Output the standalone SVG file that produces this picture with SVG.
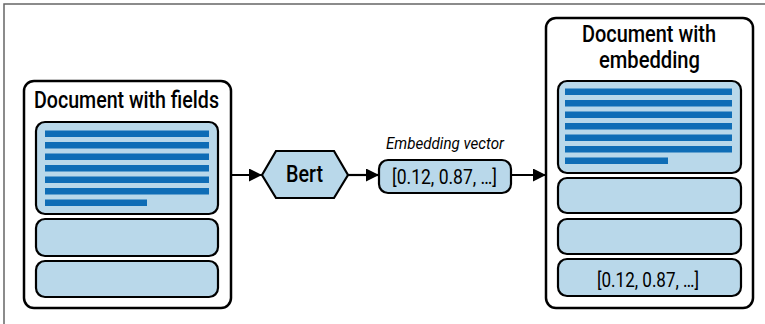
<svg xmlns="http://www.w3.org/2000/svg" width="765" height="324" viewBox="0 0 765 324">
  <defs>
    <marker id="arrow" markerWidth="13" markerHeight="13" refX="13" refY="6.5" orient="auto" markerUnits="userSpaceOnUse">
      <path d="M0,0 L13,6.5 L0,13 Z" fill="#000"/>
    </marker>
    <style>
      .doc { fill: #fff; stroke: #000; stroke-width: 2.5; }
      .field { fill: #b9d8ea; stroke: #000; stroke-width: 2.2; }
      .bar { fill: #0f6db6; }
      .title { font-family: Roboto, "Liberation Sans", sans-serif; font-weight: 500; font-size: 24px; fill: #000; }
      .val { font-family: Roboto, "Liberation Sans", sans-serif; font-weight: 400; font-size: 20px; fill: #000; }
      .lbl { font-family: Roboto, "Liberation Sans", sans-serif; font-style: italic; font-size: 17px; fill: #000; }
      .conn { stroke: #000; stroke-width: 2.2; fill: none; }
    </style>
  </defs>

  <!-- frame -->
  <path d="M4,324 V4 H765" fill="none" stroke="#666" stroke-width="1.5"/>

  <!-- connectors -->
  <g id="connectors">
    <line class="conn" x1="218" y1="175" x2="262" y2="175" marker-end="url(#arrow)"/>
    <line class="conn" x1="348" y1="175" x2="379" y2="175" marker-end="url(#arrow)"/>
    <line class="conn" x1="511" y1="175" x2="546" y2="175" marker-end="url(#arrow)"/>
  </g>

  <!-- source document -->
  <g id="doc-fields">
    <rect class="doc" x="24" y="81" width="207" height="227" rx="10"/>
    <text class="title" x="34" y="108" textLength="185" lengthAdjust="spacingAndGlyphs">Document with fields</text>
    <rect class="field" x="36" y="122" width="182" height="92" rx="9"/>
    <rect class="bar" x="45" y="130.5" width="164" height="6.5"/>
    <rect class="bar" x="45" y="142" width="164" height="6.5"/>
    <rect class="bar" x="45" y="153.5" width="164" height="6.5"/>
    <rect class="bar" x="45" y="165" width="164" height="6.5"/>
    <rect class="bar" x="45" y="176.5" width="164" height="6.5"/>
    <rect class="bar" x="45" y="188" width="164" height="6.5"/>
    <rect class="bar" x="45" y="199.5" width="102" height="6.5"/>
    <rect class="field" x="36" y="219" width="182" height="37" rx="9"/>
    <rect class="field" x="36" y="261" width="182" height="36" rx="9"/>
  </g>

  <!-- model -->
  <g id="bert">
    <polygon class="field" points="262,175 276,151 334,151 348,175 334,198 276,198"/>
    <text class="title" x="304.5" y="182" text-anchor="middle" font-size="21" textLength="37" lengthAdjust="spacingAndGlyphs">Bert</text>
  </g>

  <!-- embedding vector -->
  <g id="vector">
    <text class="lbl" x="445" y="149" text-anchor="middle" textLength="118" lengthAdjust="spacingAndGlyphs">Embedding vector</text>
    <rect class="field" x="379" y="160" width="132" height="33" rx="9"/>
    <text class="val" x="444.5" y="183.5" text-anchor="middle" textLength="105" lengthAdjust="spacingAndGlyphs">[0.12, 0.87, …]</text>
  </g>

  <!-- enriched document -->
  <g id="doc-embedding">
    <rect class="doc" x="546" y="18" width="207" height="290" rx="10"/>
    <text class="title" x="649" y="42" text-anchor="middle" font-size="19" textLength="134" lengthAdjust="spacingAndGlyphs">Document with</text>
    <text class="title" x="649.5" y="68" text-anchor="middle" font-size="19" textLength="101" lengthAdjust="spacingAndGlyphs">embedding</text>
    <rect class="field" x="558" y="81" width="183" height="92" rx="9"/>
    <rect class="bar" x="565" y="88.5" width="167" height="6.5"/>
    <rect class="bar" x="565" y="100" width="167" height="6.5"/>
    <rect class="bar" x="565" y="111.5" width="167" height="6.5"/>
    <rect class="bar" x="565" y="123" width="167" height="6.5"/>
    <rect class="bar" x="565" y="134.5" width="167" height="6.5"/>
    <rect class="bar" x="565" y="146" width="167" height="6.5"/>
    <rect class="bar" x="565" y="157.5" width="103" height="6.5"/>
    <rect class="field" x="558" y="178" width="183" height="35" rx="9"/>
    <rect class="field" x="558" y="219" width="183" height="35" rx="9"/>
    <rect class="field" x="558" y="259" width="183" height="37" rx="9"/>
    <text class="val" x="648" y="287" text-anchor="middle" textLength="102" lengthAdjust="spacingAndGlyphs">[0.12, 0.87, …]</text>
  </g>
</svg>
